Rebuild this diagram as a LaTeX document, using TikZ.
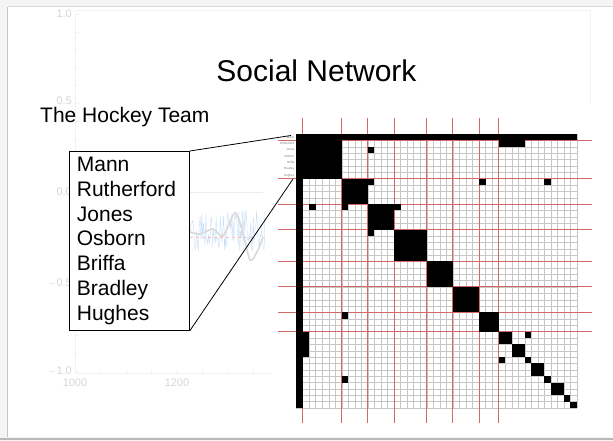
\documentclass[tikz,border=0pt]{standalone}
\usepackage{fontspec}
\setmainfont{Liberation Sans}
\usetikzlibrary{positioning}

% cell size of the adjacency matrix
\newcommand{\cellw}{6.535}
\newcommand{\cellh}{6.372}
% black block: rows #1--#2, columns #3--#4
\newcommand{\blk}[4]{\fill ({296+(#3-1)*\cellw},{134+(#1-1)*\cellh}) rectangle ({296+#4*\cellw},{134+#2*\cellh});}

\definecolor{gridred}{RGB}{210,105,105}
\definecolor{paleblue}{RGB}{200,222,246}
\definecolor{faint}{RGB}{214,214,214}

\begin{document}
\begin{tikzpicture}[x=1pt, y=-1pt,
  title/.style={font=\fontsize{30}{36}\selectfont, inner sep=0},
  subtitle/.style={font=\fontsize{21}{25}\selectfont, inner sep=0},
  namebox/.style={draw, fill=white, line width=0.8pt, align=left,
                  text width=105pt, inner xsep=7.5pt,
                  minimum width=120pt, minimum height=179pt,
                  font=\fontsize{21}{24.7}\selectfont},
  ticklbl/.style={font=\fontsize{11}{13}\selectfont, text=faint, inner sep=0},
  link/.style={line width=0.8pt},
  redline/.style={gridred, line width=0.9pt},
  cellline/.style={gray!45, line width=0.3pt}
]
\useasboundingbox (0,0) rectangle (613,441);

% slide frame
\fill[gray!8] (0,0) rectangle (613,441);
\fill[white] (8,7) rectangle (613,437);
\draw[gray!30] (8,6.5) -- (613,6.5);
\draw[gray!45] (7.5,7) -- (7.5,437);
\draw[gray!55, line width=2pt] (0,439) -- (613,439);

% faded plot behind
\draw[gray!10] (75,14) -- (75,373) -- (590,373) -- (590,10) -- (75,10);
\foreach \t in {0,...,20} \draw[gray!10] (75,{14+\t*17.85}) -- (79,{14+\t*17.85});
\foreach \t in {0,...,20} \draw[gray!10] ({75+\t*25.5},373) -- ({75+\t*25.5},369);
\node[ticklbl, anchor=east] (t1) at (72,14) {1.0};
\node[ticklbl, anchor=east] (t2) at (72,101) {0.5};
\node[ticklbl, anchor=east] (t3) at (72,192) {0.0};
\node[ticklbl, anchor=east] (t4) at (72,283) {$-$0.5};
\node[ticklbl, anchor=east] (t5) at (72,371) {$-$1.0};
\node[ticklbl] (y1) at (75,383) {1000};
\node[ticklbl] (y2) at (177,383) {1200};
\draw[gray!15] (190,192) -- (263,192);
\pgfmathsetseed{11}
\draw[paleblue, line width=0.4pt] plot[domain=190:265, samples=90] (\x,{232+22*rand});
\draw[red!25, dashed] (190,237) -- (252,237);
\draw[gray!30, line width=1.6pt] plot[smooth] coordinates
  {(190,232) (200,234) (213,229) (223,236) (235,213) (243,233) (250,260) (257,252) (263,237)};

% matrix
\fill[white] (272,104) rectangle (600,430);
\foreach \i in {0,...,43} {
  \draw[cellline] ({296+\i*\cellw},134) -- ({296+\i*\cellw},408);
  \draw[cellline] (296,{134+\i*\cellh}) -- (577,{134+\i*\cellh});
}
\foreach \k in {1,7,11,15,20,24,28,31} {
  \draw[redline] ({296+\k*\cellw},118) -- ({296+\k*\cellw},423);
  \draw[redline] (278,{134+\k*\cellh}) -- (592,{134+\k*\cellh});
}
\blk{1}{1}{1}{43}
\blk{1}{43}{1}{1}
\foreach \a/\b in {2/7,8/11,12/15,16/20,21/24,25/28,29/31,32/33,34/35,36/36,37/38,39/39,40/41,42/42,43/43}
  {\blk{\a}{\b}{\a}{\b}}
\foreach \r/\c in {3/12,12/3,8/12,12/8,8/29,29/8,8/39,39/8,12/16,16/12,32/36,36/32}
  {\blk{\r}{\r}{\c}{\c}}
\blk{2}{2}{32}{35}
\blk{32}{35}{2}{2}
\foreach \n [count=\r] in {Mann,Rutherford,Jones,Osborn,Briffa,Bradley,Hughes}
  \node[font=\fontsize{3}{3}\selectfont, text=gray, anchor=east, inner sep=0.5pt]
    (row\r) at (295,{134+(\r-0.5)*\cellh}) {\n};

% texts and the team box
\node[title, anchor=base] (title) at (316.5,82) {Social Network};
\node[subtitle, anchor=base west] (team) at (40,122.7) {The Hockey Team};
\node[namebox, anchor=north west] (names) at (69,151)
  {Mann\\Rutherford\\Jones\\Osborn\\Briffa\\Bradley\\Hughes};

\coordinate (mannrow) at (291,135.5);
\coordinate (hughesrow) at (293,179);
\draw[link] (names.north east) -- (mannrow);
\draw[link] (names.south east) -- (hughesrow);
\end{tikzpicture}
\end{document}
